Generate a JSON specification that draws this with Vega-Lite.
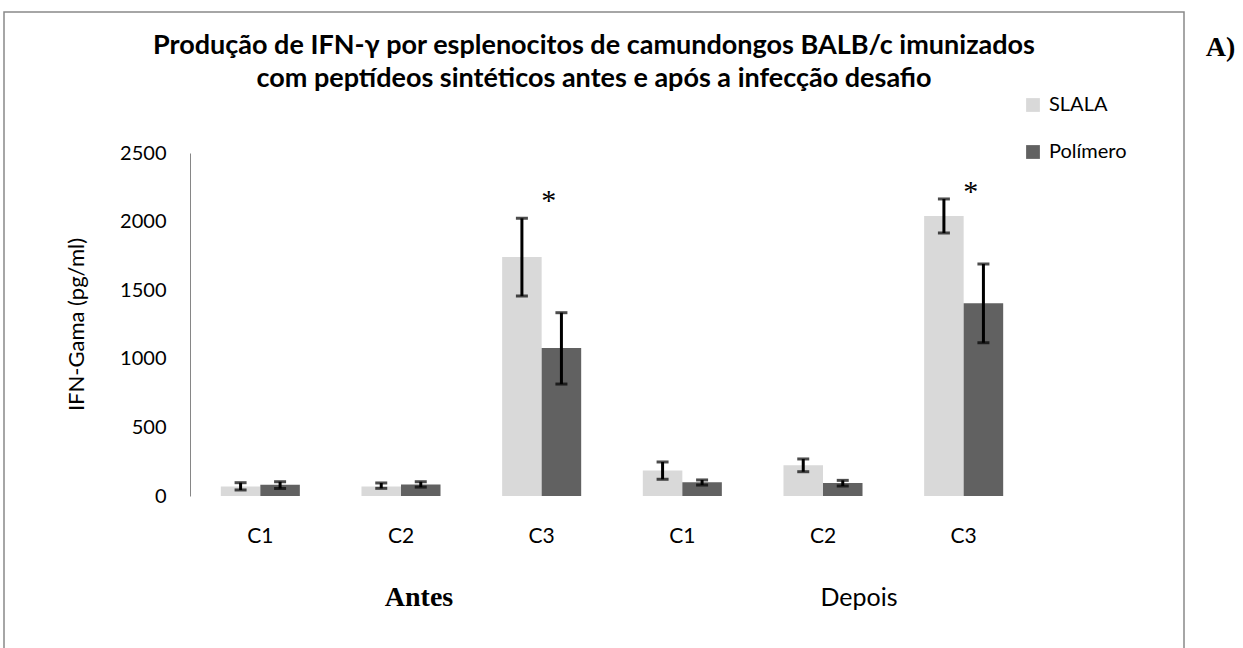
{
  "$schema": "https://vega.github.io/schema/vega-lite/v6.json",
  "width": 1180,
  "height": 660,
  "padding": {"left": 4, "top": 12, "right": 0, "bottom": 0},
  "background": "white",
  "config": {
    "view": {"stroke": "#898989", "strokeWidth": 1.5},
    "font": "Lato"
  },
  "title": {
    "text": ["Produção de IFN-γ por esplenocitos de camundongos BALB/c imunizados", "com peptídeos sintéticos antes e após a infecção desafio"],
    "frame": "group",
    "anchor": "middle",
    "baseline": "top",
    "offset": -81,
    "font": "Lato",
    "fontSize": 27,
    "fontWeight": "bold",
    "lineHeight": 33,
    "color": "#000000"
  },
  "datasets": {
    "bars": [
      {"cat": "Antes C1", "serie": "SLALA", "media": 70, "inferior": 44, "superior": 97},
      {"cat": "Antes C1", "serie": "Polímero", "media": 82, "inferior": 55, "superior": 104},
      {"cat": "Antes C2", "serie": "SLALA", "media": 70, "inferior": 56, "superior": 95},
      {"cat": "Antes C2", "serie": "Polímero", "media": 84, "inferior": 65, "superior": 104},
      {"cat": "Antes C3", "serie": "SLALA", "media": 1742, "inferior": 1457, "superior": 2024},
      {"cat": "Antes C3", "serie": "Polímero", "media": 1079, "inferior": 816, "superior": 1336},
      {"cat": "Depois C1", "serie": "SLALA", "media": 185, "inferior": 122, "superior": 248},
      {"cat": "Depois C1", "serie": "Polímero", "media": 100, "inferior": 80, "superior": 117},
      {"cat": "Depois C2", "serie": "SLALA", "media": 224, "inferior": 177, "superior": 270},
      {"cat": "Depois C2", "serie": "Polímero", "media": 94, "inferior": 73, "superior": 114},
      {"cat": "Depois C3", "serie": "SLALA", "media": 2041, "inferior": 1917, "superior": 2165},
      {"cat": "Depois C3", "serie": "Polímero", "media": 1405, "inferior": 1117, "superior": 1691}
    ],
    "sig": [
      {"cat": "Antes C3", "marca": "*", "altura": 2194},
      {"cat": "Depois C3", "marca": "*", "altura": 2259}
    ],
    "periodos": [
      {"cat": "Antes C2", "periodo": "Antes"},
      {"cat": "Depois C2", "periodo": "Depois"}
    ]
  },
  "resolve": {"axis": {"y": "independent"}},
  "layer": [
    {
      "data": {"name": "bars"},
      "mark": {"type": "bar"},
      "encoding": {
        "x": {
          "field": "cat", "type": "nominal",
          "sort": ["Antes C1", "Antes C2", "Antes C3", "Depois C1", "Depois C2", "Depois C3"],
          "scale": {"range": [186, 1030], "paddingInner": 0, "paddingOuter": 0},
          "axis": {
            "orient": "bottom", "offset": -176, "domain": false, "ticks": false,
            "labelExpr": "split(datum.label, ' ')[1]",
            "labelAngle": 0, "labelFont": "Lato", "labelFontSize": 21, "labelColor": "#000000",
            "labelPadding": 29, "title": null
          }
        },
        "xOffset": {
          "field": "serie", "type": "nominal", "sort": ["SLALA", "Polímero"],
          "scale": {"paddingInner": 0, "paddingOuter": 0.78}
        },
        "y": {
          "field": "media", "type": "quantitative",
          "scale": {"domain": [0, 2500], "range": [484, 141], "nice": false, "zero": true},
          "axis": {
            "orient": "left", "offset": -186, "values": [0, 500, 1000, 1500, 2000, 2500], "format": "d",
            "domain": true, "domainColor": "#868686", "domainWidth": 1, "ticks": false, "grid": false,
            "labelFont": "Lato", "labelFontSize": 20, "labelColor": "#000000", "labelPadding": 24,
            "title": "IFN-Gama (pg/ml)", "titleFont": "Lato", "titleFontSize": 22, "titleFontWeight": "normal",
            "titleColor": "#000000", "titleX": -114, "titleY": 312, "titleAngle": -90,
            "titleAlign": "center", "titleBaseline": "middle"
          }
        },
        "color": {
          "field": "serie", "type": "nominal",
          "scale": {"domain": ["SLALA", "Polímero"], "range": ["#d9d9d9", "#616161"]},
          "legend": {
            "orient": "none", "legendX": 1019, "legendY": 83, "title": null,
            "symbolType": "square", "symbolSize": 190, "symbolStrokeWidth": 0,
            "labelFont": "Lato", "labelFontSize": 20, "labelColor": "#000000",
            "rowPadding": 27, "labelOffset": 6
          }
        }
      }
    },
    {
      "data": {"name": "bars"},
      "mark": {"type": "rule", "color": "#000000", "strokeWidth": 3},
      "encoding": {
        "x": {"field": "cat", "type": "nominal", "sort": ["Antes C1", "Antes C2", "Antes C3", "Depois C1", "Depois C2", "Depois C3"]},
        "xOffset": {"field": "serie", "type": "nominal", "sort": ["SLALA", "Polímero"]},
        "y": {
          "field": "inferior", "type": "quantitative",
          "axis": {
            "orient": "right", "labels": false, "domain": false, "ticks": false, "grid": false,
            "title": "A)", "titleFont": "Liberation Serif", "titleFontSize": 28, "titleFontWeight": "bold",
            "titleColor": "#000000", "titleAngle": 0, "titleX": 36, "titleY": 35,
            "titleAlign": "center", "titleBaseline": "middle"
          }
        },
        "y2": {"field": "superior"}
      }
    },
    {
      "data": {"name": "bars"},
      "mark": {"type": "tick", "color": "#000000", "thickness": 3, "size": 12},
      "encoding": {
        "x": {"field": "cat", "type": "nominal", "sort": ["Antes C1", "Antes C2", "Antes C3", "Depois C1", "Depois C2", "Depois C3"]},
        "xOffset": {"field": "serie", "type": "nominal", "sort": ["SLALA", "Polímero"]},
        "y": {"field": "superior", "type": "quantitative", "axis": null}
      }
    },
    {
      "data": {"name": "bars"},
      "mark": {"type": "tick", "color": "#000000", "thickness": 3, "size": 12},
      "encoding": {
        "x": {"field": "cat", "type": "nominal", "sort": ["Antes C1", "Antes C2", "Antes C3", "Depois C1", "Depois C2", "Depois C3"]},
        "xOffset": {"field": "serie", "type": "nominal", "sort": ["SLALA", "Polímero"]},
        "y": {"field": "inferior", "type": "quantitative", "axis": null}
      }
    },
    {
      "data": {"name": "sig"},
      "mark": {"type": "text", "font": "Liberation Serif", "fontSize": 30, "baseline": "middle", "align": "center", "dx": 7, "dy": 6, "color": "#000000"},
      "encoding": {
        "x": {"field": "cat", "type": "nominal", "sort": ["Antes C1", "Antes C2", "Antes C3", "Depois C1", "Depois C2", "Depois C3"]},
        "y": {"field": "altura", "type": "quantitative", "axis": null},
        "text": {"field": "marca"}
      }
    },
    {
      "data": {"name": "periodos"},
      "transform": [{"filter": "datum.periodo == 'Antes'"}],
      "mark": {"type": "text", "font": "Liberation Serif", "fontSize": 28, "fontWeight": "bold", "baseline": "middle", "align": "center", "dx": 18, "color": "#000000"},
      "encoding": {
        "x": {"field": "cat", "type": "nominal", "sort": ["Antes C1", "Antes C2", "Antes C3", "Depois C1", "Depois C2", "Depois C3"]},
        "y": {"datum": -743, "type": "quantitative", "axis": null},
        "text": {"field": "periodo"}
      }
    },
    {
      "data": {"name": "periodos"},
      "transform": [{"filter": "datum.periodo == 'Depois'"}],
      "mark": {"type": "text", "font": "Lato", "fontSize": 25, "baseline": "middle", "align": "center", "dx": 36, "color": "#000000"},
      "encoding": {
        "x": {"field": "cat", "type": "nominal", "sort": ["Antes C1", "Antes C2", "Antes C3", "Depois C1", "Depois C2", "Depois C3"]},
        "y": {"datum": -743, "type": "quantitative", "axis": null},
        "text": {"field": "periodo"}
      }
    }
  ]
}
